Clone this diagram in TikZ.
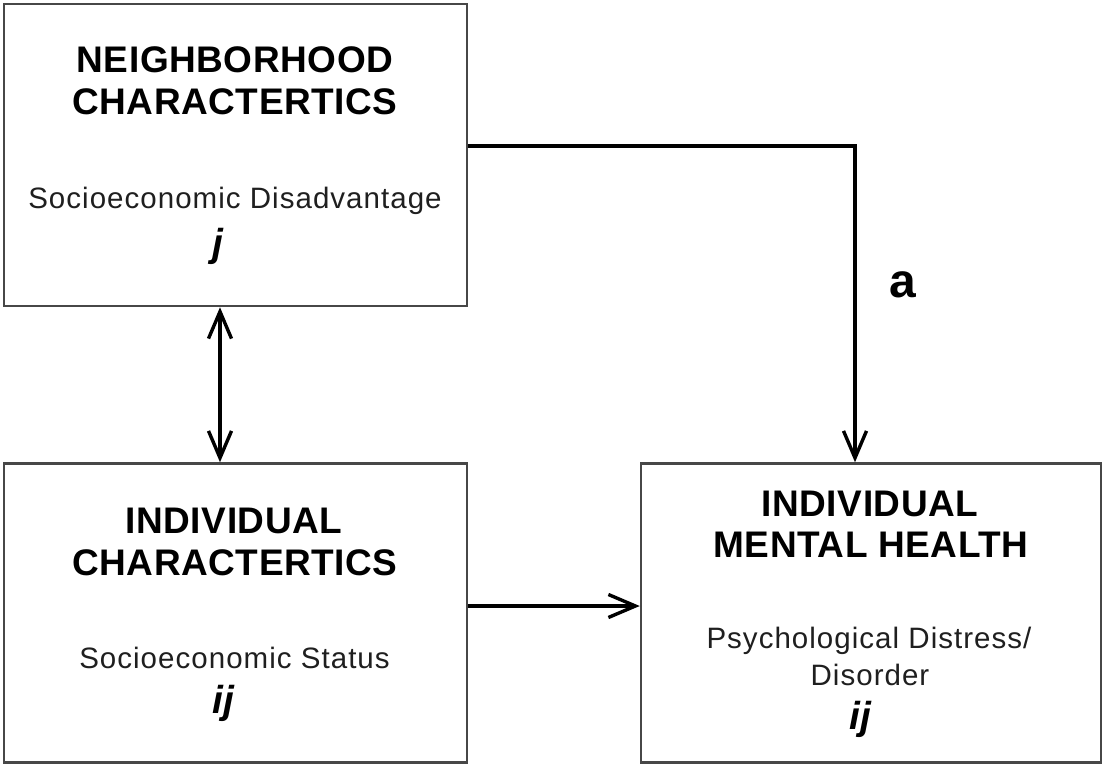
\documentclass[tikz,border=0pt]{standalone}
\usepackage{fontspec}
\setmainfont{Liberation Sans}
\newfontfamily\ttlfont[LetterSpace=1.5]{Liberation Sans}
\newfontfamily\subfont[LetterSpace=3.5]{Liberation Sans}
\usetikzlibrary{arrows.meta}
\tikzset{
  box/.style={draw=black!72, line width=2.5pt, fill=white, inner sep=0pt},
  ttl/.style={anchor=base, inner sep=0pt, font=\ttlfont\bfseries\fontsize{37}{44}\selectfont},
  sub/.style={anchor=base, inner sep=0pt, text=black!88, font=\subfont\fontsize{29.5}{35}\selectfont},
  idx/.style={anchor=base, inner sep=0pt, font=\bfseries\itshape\fontsize{39}{45}\selectfont},
  lbl/.style={anchor=base, inner sep=0pt, font=\bfseries\fontsize{48}{56}\selectfont},
  conn/.style={line width=4pt, black},
  tip/.style={-{Straight Barb[length=27pt,width=23pt,line width=3.4pt]}},
  tips/.style={{Straight Barb[length=27pt,width=23pt,line width=3.4pt]}-{Straight Barb[length=27pt,width=23pt,line width=3.4pt]}}
}
\begin{document}
\begin{tikzpicture}[x=1pt,y=-1pt]
\useasboundingbox (0,0) rectangle (1103,765);
% boxes
\node[box, minimum width=463pt, minimum height=302pt] (nb) at (235.5,155) {};
\node[box, minimum width=463pt, minimum height=299pt] (ic) at (235.5,613) {};
\node[box, minimum width=460pt, minimum height=299pt] (mh) at (871,613) {};
% box 1 text
\node[ttl] (nb1) at (235,73) {NEIGHBORHOOD};
\node[ttl] (nb2) at (235,115) {CHARACTERTICS};
\node[sub] (nb3) at (235,208) {Socioeconomic Disadvantage};
\node[idx] (nb4) at (218,256) {j};
% box 2 text
\node[ttl] (ic1) at (234,533) {INDIVIDUAL};
\node[ttl] (ic2) at (235,575) {CHARACTERTICS};
\node[sub] (ic3) at (234.5,668) {Socioeconomic Status};
\node[idx] (ic4) at (223,713) {ij};
% box 3 text
\node[ttl] (mh1) at (870,516) {INDIVIDUAL};
\node[ttl] (mh2) at (871,557) {MENTAL HEALTH};
\node[sub] (mh3) at (869,648) {Psychological Distress/};
\node[sub] (mh4) at (870,685) {Disorder};
\node[idx] (mh5) at (860,729) {ij};
% label
\node[lbl] (la) at (903,297) {a};
% connectors
\coordinate (turn) at (855,146);
\draw[conn, tip] (turn -| nb.east) -- (turn) -- (turn |- mh.north);
\coordinate (dx) at (220,0);
\draw[conn, tips] (dx |- nb.south) -- (dx |- ic.north);
\coordinate (hy) at (0,606);
\draw[conn, tip] (hy -| ic.east) -- (hy -| mh.west);
\end{tikzpicture}
\end{document}
